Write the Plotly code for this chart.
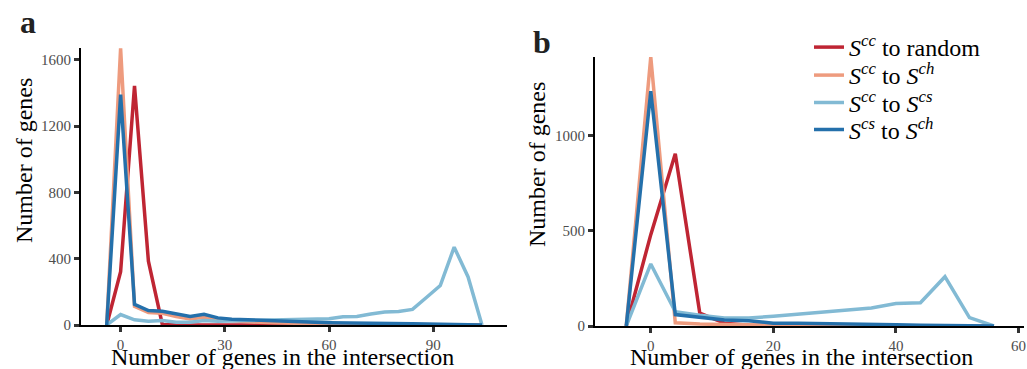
import plotly.graph_objects as go

# ---------------- data ----------------
x_a = [-4, 0, 4, 8, 12, 16, 20, 24, 28, 32, 36, 40, 44, 48, 52, 56, 60, 64, 68, 72, 76, 80, 84, 88, 92, 96, 100, 104]
red_a = [0, 322, 1443, 385, 3, 0, 0, 0, 0, 0, 0, 0, 0, 0, 0, 0, 0, 0, 0, 0, 0, 0, 0, 0, 0, 0, 0, 0]
orange_a = [0, 1670, 112, 75, 71, 51, 37, 47, 31, 25, 20, 16, 14, 11, 8, 6, 5, 5, 4, 4, 3, 3, 3, 2, 2, 2, 1, 0]
lightblue_a = [0, 63, 31, 23, 27, 17, 17, 27, 23, 27, 27, 28, 30, 30, 36, 36, 38, 50, 52, 66, 78, 82, 94, 166, 238, 470, 290, 0]
darkblue_a = [0, 1390, 125, 87, 83, 68, 51, 65, 43, 35, 31, 27, 23, 20, 18, 16, 14, 12, 10, 9, 8, 8, 7, 6, 5, 4, 3, 0]

x_b = [-4, 0, 4, 8, 12, 16, 20, 24, 28, 32, 36, 40, 44, 48, 52, 56]
red_b = [0, 480, 905, 67, 15, 4, 0, 0, 0, 0, 0, 0, 0, 0, 0, 0]
orange_b = [0, 1413, 17, 10, 8, 5, 3, 2, 1, 1, 0, 0, 0, 0, 0, 0]
lightblue_b = [0, 326, 75, 56, 42, 42, 51, 62, 69, 83, 95, 118, 122, 259, 44, 0]
darkblue_b = [0, 1234, 60, 47, 32, 28, 14, 14, 13, 11, 9, 7, 4, 2, 1, 0]

series_names = [
    "<i>S</i><sup><i>cc</i></sup> to random",
    "<i>S</i><sup><i>cc</i></sup> to <i>S</i><sup><i>ch</i></sup>",
    "<i>S</i><sup><i>cc</i></sup> to <i>S</i><sup><i>cs</i></sup>",
    "<i>S</i><sup><i>cs</i></sup> to <i>S</i><sup><i>ch</i></sup>",
]
colors = ["#BF2533", "#EE9B7E", "#82BAD4", "#2470AB"]

xticks_a = [0, 30, 60, 90]
yticks_a = [0, 400, 800, 1200, 1600]
xticks_b = [0, 20, 40, 60]
yticks_b = [0, 500, 1000]

x_title = "Number of genes in the intersection"
y_title = "Number of genes"

# ---------------- figure ----------------
W, H = 1027, 369
FONT = "Liberation Serif, Times New Roman, serif"
legend_ids = ["legend", "legend2", "legend3", "legend4"]
legend_rows = [47.5, 75.5, 103, 130]

fig = go.Figure()
for i, ys in enumerate([red_a, orange_a, lightblue_a, darkblue_a]):
    fig.add_trace(go.Scatter(x=x_a, y=ys, mode="lines", name=series_names[i],
                             line=dict(color=colors[i], width=3.5), xaxis="x", yaxis="y",
                             showlegend=False))
for i, ys in enumerate([red_b, orange_b, lightblue_b, darkblue_b]):
    fig.add_trace(go.Scatter(x=x_b, y=ys, mode="lines", name=series_names[i],
                             line=dict(color=colors[i], width=3.5), xaxis="x2", yaxis="y2",
                             showlegend=True, legend=legend_ids[i]))


def px_x(p):
    return p / W


def px_y(p):
    return (H - p) / H


axis_common = dict(
    showgrid=False, zeroline=False, showline=True, linecolor="black", linewidth=2,
    ticks="outside", ticklen=5, tickwidth=3, tickcolor="#333333", automargin=False,
    tickfont=dict(family=FONT, size=15, color="#4D4D4D"),
)

fig.update_layout(
    width=W, height=H,
    margin=dict(l=0, r=0, t=0, b=0, autoexpand=False),
    paper_bgcolor="white", plot_bgcolor="white",
    xaxis=dict(domain=[px_x(81), px_x(507)], range=[-11.4, 111.2], tickvals=xticks_a,
               anchor="y", **axis_common),
    yaxis=dict(domain=[px_y(325), px_y(48)], range=[0, 1672], tickvals=yticks_a,
               anchor="x", **axis_common),
    xaxis2=dict(domain=[px_x(595), px_x(1024)], range=[-9.1, 60.9], tickvals=xticks_b,
                anchor="y2", **axis_common),
    yaxis2=dict(domain=[px_y(326), px_y(57)], range=[0, 1413], tickvals=yticks_b,
                anchor="x2", **axis_common),
    showlegend=True,
)
for lid, row in zip(legend_ids, legend_rows):
    fig.update_layout({lid: dict(x=px_x(809), y=px_y(row), xanchor="left", yanchor="middle",
                                 font=dict(family=FONT, size=24, color="black"),
                                 bgcolor="rgba(0,0,0,0)")})

annotations = [
    dict(text="<b>a</b>", x=px_x(18), y=px_y(42), xanchor="left", yanchor="bottom",
         font=dict(family=FONT, size=32, color="#222222")),
    dict(text="<b>b</b>", x=px_x(531), y=px_y(62), xanchor="left", yanchor="bottom",
         font=dict(family=FONT, size=32, color="#222222")),
    dict(text=x_title, x=px_x(282.5), y=px_y(342), xanchor="center", yanchor="top",
         font=dict(family=FONT, size=24, color="black")),
    dict(text=x_title, x=px_x(801), y=px_y(342), xanchor="center", yanchor="top",
         font=dict(family=FONT, size=24, color="black")),
    dict(text=y_title, x=px_x(24), y=px_y(161), xanchor="center", yanchor="middle",
         textangle=-90, font=dict(family=FONT, size=24, color="black")),
    dict(text=y_title, x=px_x(537), y=px_y(165), xanchor="center", yanchor="middle",
         textangle=-90, font=dict(family=FONT, size=24, color="black")),
]
for a in annotations:
    a.update(xref="paper", yref="paper", showarrow=False)
fig.update_layout(annotations=annotations)

fig.write_html("out.html")
